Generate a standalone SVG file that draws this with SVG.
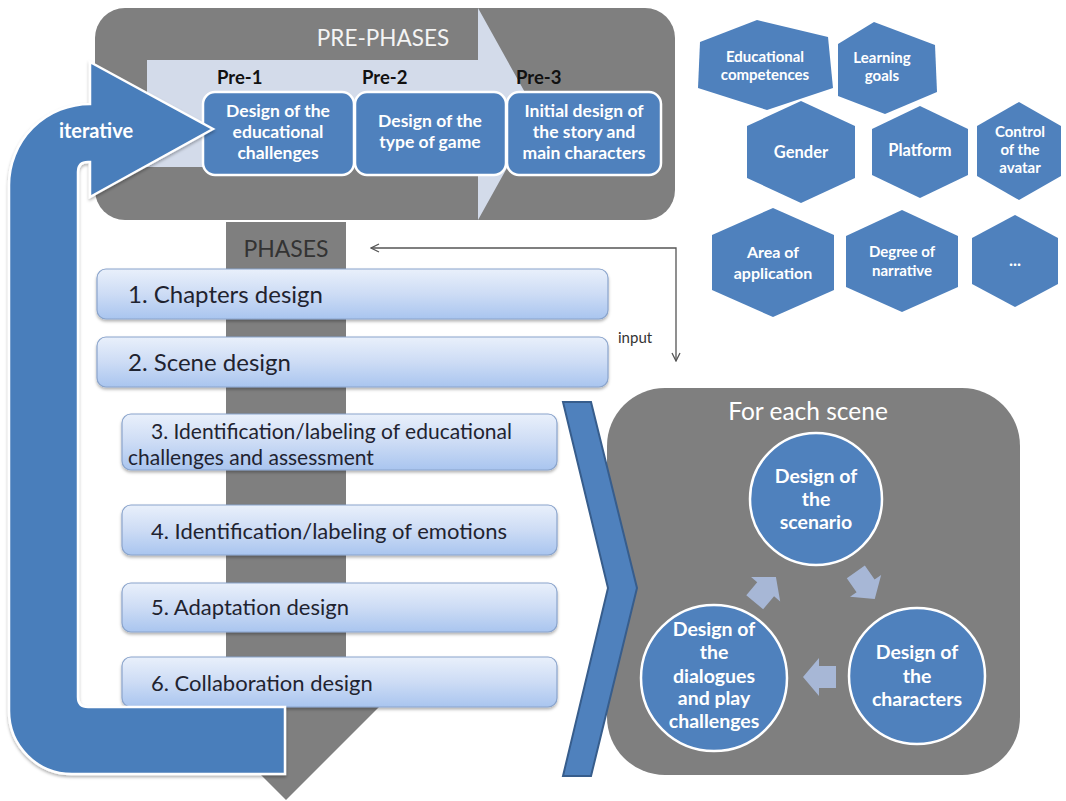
<svg xmlns="http://www.w3.org/2000/svg" width="1066" height="801" viewBox="0 0 1066 801">
<defs>
<linearGradient id="gBox" x1="0" y1="0" x2="0" y2="1">
<stop offset="0" stop-color="#e9f0fb"/>
<stop offset="0.5" stop-color="#cddcf5"/>
<stop offset="1" stop-color="#a9c5ef"/>
</linearGradient>
<filter id="sh" x="-5%" y="-10%" width="110%" height="130%">
<feDropShadow dx="0" dy="2" stdDeviation="1.5" flood-color="#000" flood-opacity="0.3"/>
</filter>
<marker id="open" viewBox="0 0 10 10" refX="9" refY="5" markerWidth="10" markerHeight="10" markerUnits="userSpaceOnUse" orient="auto-start-reverse">
<path d="M1,1 L9,5 L1,9" fill="none" stroke="#555" stroke-width="1.3"/>
</marker>
<style>
.gray{fill:#7f7f7f}
.blue{fill:#4f81bd}
.pre{fill:#4f81bd;stroke:#fff;stroke-width:2.5}
.ph{fill:url(#gBox);stroke:#8aa4cc;stroke-width:1.2;filter:url(#sh)}
.wb{font-family:Lato,"Liberation Sans",sans-serif;font-weight:bold;fill:#fff;text-anchor:middle}
.pt{font-family:Lato,"Liberation Sans",sans-serif;fill:#1f2330}
.lab{font-family:Lato,"Liberation Sans",sans-serif;font-weight:bold;fill:#111;font-size:18.5px}
.cyc{fill:#a7b7d6}
.circ{fill:#4f81bd;stroke:#fff;stroke-width:2.5}
</style>
</defs>

<g id="prephases">
<rect class="gray" x="95" y="8" width="580" height="212" rx="30"/>
<polygon points="147,60 478,60 478,8 537,114 478,220 478,167 147,167" fill="#d3dbea"/>
<text x="383" y="46" font-family="Lato,'Liberation Sans',sans-serif" font-size="22.5" fill="#f4f4f4" text-anchor="middle">PRE-PHASES</text>
</g>

<g id="pre1">
<text class="lab" x="217" y="84">Pre-1</text>
<rect class="pre" x="203" y="92" width="151" height="83" rx="12"/>
<text class="wb" font-size="17.5" x="278"><tspan x="278" y="117">Design of the</tspan><tspan x="278" y="138">educational</tspan><tspan x="278" y="159">challenges</tspan></text>
</g>
<g id="pre2">
<text class="lab" x="362" y="84">Pre-2</text>
<rect class="pre" x="355" y="92" width="151" height="83" rx="12"/>
<text class="wb" font-size="17.5" x="430"><tspan x="430" y="127">Design of the</tspan><tspan x="430" y="148">type of game</tspan></text>
</g>
<g id="pre3">
<text class="lab" x="516" y="84">Pre-3</text>
<rect class="pre" x="507" y="92" width="154" height="83" rx="12"/>
<text class="wb" font-size="17.5" x="584"><tspan x="584" y="117">Initial design of</tspan><tspan x="584" y="138">the story and</tspan><tspan x="584" y="159">main characters</tspan></text>
</g>

<g id="phases">
<rect class="gray" x="226" y="222" width="120" height="480"/>
<polygon class="gray" points="176,690 396,690 286,800"/>
<text x="286" y="257" font-family="Lato,'Liberation Sans',sans-serif" font-size="23" fill="#333" text-anchor="middle">PHASES</text>
</g>

<g id="phase1">
<rect class="ph" x="97" y="269" width="511" height="50" rx="9"/>
<text class="pt" x="128" y="303" font-size="24">1. Chapters design</text>
</g>
<g id="phase2">
<rect class="ph" x="97" y="337" width="511" height="50" rx="9"/>
<text class="pt" x="128" y="371" font-size="24">2. Scene design</text>
</g>
<g id="phase3">
<rect class="ph" x="122" y="414" width="435" height="56" rx="9"/>
<text class="pt" font-size="21"><tspan x="151" y="439">3. Identification/labeling of educational</tspan><tspan x="128" y="465">challenges and assessment</tspan></text>
</g>
<g id="phase4">
<rect class="ph" x="122" y="505" width="435" height="50" rx="9"/>
<text class="pt" x="151" y="539" font-size="22">4. Identification/labeling of emotions</text>
</g>
<g id="phase5">
<rect class="ph" x="122" y="583" width="435" height="49" rx="9"/>
<text class="pt" x="151" y="615" font-size="22">5. Adaptation design</text>
</g>
<g id="phase6">
<rect class="ph" x="122" y="657" width="435" height="50" rx="9"/>
<text class="pt" x="151" y="691" font-size="22">6. Collaboration design</text>
</g>

<g id="iterative">
<path d="M213,129 L90,197 L90,162 L88,162 Q78,162 78,172 L78,697 Q78,707 88,707 L285,707 L285,774 L72,774 A63,63 0 0 1 9,711 L9,185 A81,81 0 0 1 90,104 L90,62 Z" fill="#4a7ebb" stroke="#fff" stroke-width="2.5" filter="url(#sh)"/>
<text class="wb" x="96" y="138" font-size="20">iterative</text>
</g>

<g id="scene">
<rect class="gray" x="607" y="388" width="413" height="387" rx="58"/>
<text x="808" y="420" font-family="Lato,'Liberation Sans',sans-serif" font-size="24.5" fill="#fff" text-anchor="middle">For each scene</text>
</g>

<g id="chevron">
<polygon points="563,402 591,402 637,588 591,776 563,776 608,588" fill="#4f81bd" stroke="#375d8c" stroke-width="2"/>
</g>

<g id="cycle-arrows">
<polygon class="cyc" transform="translate(865,585) rotate(55)" points="-16,-11 1,-11 1,-19 17,0 1,19 1,11 -16,11"/>
<polygon class="cyc" transform="translate(820,677) rotate(180)" points="-16,-11 1,-11 1,-19 17,0 1,19 1,11 -16,11"/>
<polygon class="cyc" transform="translate(765,590) rotate(-50)" points="-16,-11 1,-11 1,-19 17,0 1,19 1,11 -16,11"/>
</g>

<g id="c-scenario">
<circle class="circ" cx="816" cy="499" r="66"/>
<text class="wb" font-size="19.5"><tspan x="816" y="483">Design of</tspan><tspan x="816" y="506">the</tspan><tspan x="816" y="529">scenario</tspan></text>
</g>
<g id="c-characters">
<circle class="circ" cx="917" cy="676" r="68"/>
<text class="wb" font-size="19.5"><tspan x="917" y="659">Design of</tspan><tspan x="917" y="683">the</tspan><tspan x="917" y="706">characters</tspan></text>
</g>
<g id="c-dialogues">
<circle class="circ" cx="714" cy="678" r="73"/>
<text class="wb" font-size="19.5"><tspan x="714" y="636">Design of</tspan><tspan x="714" y="659">the</tspan><tspan x="714" y="683">dialogues</tspan><tspan x="714" y="705">and play</tspan><tspan x="714" y="728">challenges</tspan></text>
</g>

<g id="h-educational">
<polygon class="blue" points="757,20 828,37 833,88 767,110 698,88 700,42"/>
<text class="wb" font-size="15"><tspan x="765" y="62">Educational</tspan><tspan x="765" y="80">competences</tspan></text>
</g>
<g id="h-learning">
<polygon class="blue" points="874,22 935,45 937,92 885,114 838,96 838,44"/>
<text class="wb" font-size="15"><tspan x="882" y="63">Learning</tspan><tspan x="882" y="81">goals</tspan></text>
</g>
<g id="h-gender">
<polygon class="blue" points="801,101 855,126 855,178 801,203 747,178 747,126"/>
<text class="wb" x="801" y="158" font-size="16.5">Gender</text>
</g>
<g id="h-platform">
<polygon class="blue" points="920,106 968,129 968,175 920,198 872,175 872,129"/>
<text class="wb" x="920" y="156" font-size="16.5">Platform</text>
</g>
<g id="h-control">
<polygon class="blue" points="1019,102 1061,126 1061,176 1019,200 977,176 977,126"/>
<text class="wb" font-size="15"><tspan x="1020" y="137">Control</tspan><tspan x="1020" y="155">of the</tspan><tspan x="1020" y="173">avatar</tspan></text>
</g>
<g id="h-area">
<polygon class="blue" points="773,208 834,235 834,290 773,317 712,290 712,235"/>
<text class="wb" font-size="16"><tspan x="773" y="258">Area of</tspan><tspan x="773" y="279">application</tspan></text>
</g>
<g id="h-degree">
<polygon class="blue" points="902,210 958,236 958,287 902,312 846,287 846,236"/>
<text class="wb" font-size="15"><tspan x="902" y="257">Degree of</tspan><tspan x="902" y="276">narrative</tspan></text>
</g>
<g id="h-more">
<polygon class="blue" points="1015,215 1058,238 1058,284 1015,307 972,284 972,238"/>
<text class="wb" x="1015" y="266" font-size="17">...</text>
</g>

<g id="connectors">
<path d="M371,248 H676 V361" fill="none" stroke="#555" stroke-width="1.3" marker-start="url(#open)" marker-end="url(#open)"/>
<text x="618" y="343" font-family="Lato,'Liberation Sans',sans-serif" font-size="15" fill="#333">input</text>
</g>
</svg>
